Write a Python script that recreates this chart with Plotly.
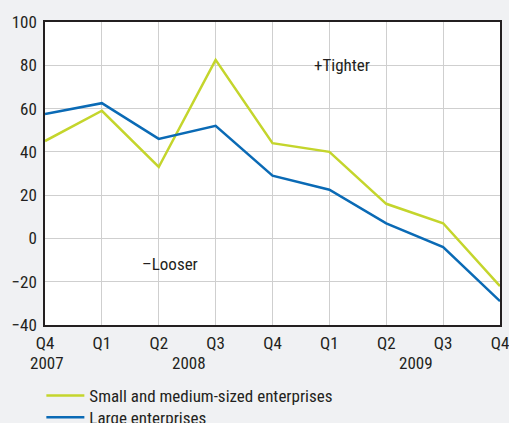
import plotly.graph_objects as go

quarters = ["Q4", "Q1", "Q2", "Q3", "Q4", "Q1", "Q2", "Q3", "Q4"]
years = ["2007", "2008", "2009"]
sme = [45, 59, 33, 82.5, 44, 40, 16, 7, -22]
large = [57.5, 62.5, 46, 52, 29, 22.5, 7, -4, -29]

x = list(range(len(quarters)))
FONT = "Roboto Condensed, Liberation Sans Narrow, sans-serif"
FS = 17

fig = go.Figure()
fig.add_trace(go.Scatter(x=x, y=sme, mode="lines", name="Small and medium-sized enterprises",
                         line=dict(color="#c4d52c", width=2.5), legend="legend"))
fig.add_trace(go.Scatter(x=x, y=large, mode="lines", name="Large enterprises",
                         line=dict(color="#0a6ab5", width=2.5), legend="legend2"))

leg_common = dict(xanchor="left", yanchor="top", orientation="v",
                  bgcolor="rgba(0,0,0,0)", font=dict(size=FS), itemwidth=38)
fig.update_layout(
    width=509, height=423,
    margin=dict(l=45, r=9, t=22, b=98, autoexpand=False),
    paper_bgcolor="#f0f1f3", plot_bgcolor="#ffffff",
    font=dict(family=FONT, size=FS, color="#231f20"),
    showlegend=True,
    legend=dict(x=-0.008, y=-0.175, **leg_common),
    legend2=dict(x=-0.008, y=-0.2466, **leg_common),
)
fig.update_xaxes(range=[0, 8], tickvals=x, ticktext=quarters, showgrid=True,
                 gridcolor="#cfcfcf", gridwidth=1, showline=True, linecolor="#231f20",
                 linewidth=1.5, mirror=True, ticks="", zeroline=False,
                 ticklabelstandoff=2, ticklabeloverflow="allow")
fig.update_yaxes(range=[-40, 100], dtick=20, showgrid=True, gridcolor="#cfcfcf",
                 gridwidth=1, showline=True, linecolor="#231f20", linewidth=1.5,
                 mirror=True, ticks="", zeroline=False, ticklabelstandoff=3)

year_pos = [0.03, 2.53, 6.53]
for yr, xp in zip(years, year_pos):
    fig.add_annotation(x=xp, y=0, xref="x", yref="paper", text=yr, showarrow=False,
                       yanchor="middle", yshift=-38, font=dict(size=FS))
fig.add_annotation(x=5.22, y=80, text="+Tighter", showarrow=False, font=dict(size=FS))
fig.add_annotation(x=2.19, y=-12, text="–Looser", showarrow=False, font=dict(size=FS))

fig.write_html("out.html", config={"displayModeBar": False},
               post_script="document.body.style.margin='0';document.body.style.overflow='hidden';")
